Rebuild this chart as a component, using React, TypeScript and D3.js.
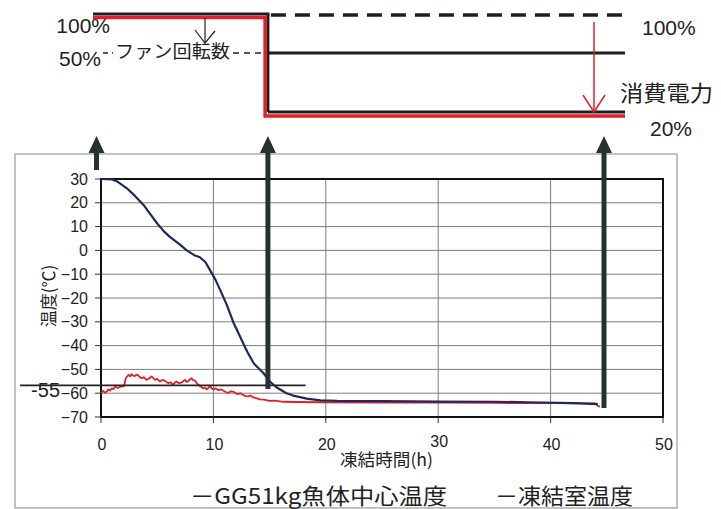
import React from "react";
import * as d3 from "d3";

// ---- data ----
const yTicks = [30, 20, 10, 0, -10, -20, -30, -40, -50, -60, -70];
const xTicks = [0, 10, 20, 30, 40, 50];

// GG51kg fish core temperature (time h, °C)
const fishCore: [number, number][] = [
  [0, 30], [1.0, 29.8], [1.5, 28.8], [2.3, 26.1], [3.0, 23], [3.8, 19], [4.5, 14.5],
  [5.0, 11.3], [5.6, 8], [6.1, 5.8], [7.0, 2.5], [7.6, 0.1], [8.3, -2.0], [8.8, -2.9],
  [9.3, -5], [9.7, -8.3], [10.2, -12.5], [10.6, -16.6], [11.2, -23], [11.8, -30.5],
  [12.4, -36.5], [13.0, -42.5], [13.6, -47.5], [14.45, -51.5], [15.0, -55], [15.6, -57.5],
  [16.5, -60], [17.1, -61], [18.3, -62.3], [19.5, -63.0], [21, -63.2], [25, -63.3],
  [30, -63.5], [35, -63.6], [38, -63.8], [42, -64.2], [44.2, -64.6],
];

// freezer room temperature (time h, °C)
const room: [number, number][] = [
  [0, -60.0], [0.2, -59], [0.35, -59.8], [0.5, -59.4], [0.65, -58.4], [0.8, -58.9], [0.95, -58],
  [1.1, -58.3], [1.25, -57.3], [1.5, -57.8], [1.7, -57.3], [2.05, -57], [2.2, -53.7],
  [2.45, -52.3], [2.6, -52.9], [2.7, -52], [2.85, -52.6], [3.0, -52.8], [3.15, -52.2],
  [3.3, -52.5], [3.45, -53.2], [3.6, -53.7], [3.8, -53.3], [4.05, -54.4], [4.25, -53.9],
  [4.5, -53], [4.65, -53.6], [4.8, -54.4], [5.0, -54.0], [5.25, -55.1], [5.4, -54.6],
  [5.55, -54.4], [5.8, -55.2], [6.0, -55.8], [6.2, -55.4], [6.4, -56.5], [6.55, -55.7],
  [6.7, -55.1], [6.95, -55.8], [7.2, -55.5], [7.35, -54.8], [7.5, -54.4], [7.6, -55.2],
  [7.75, -55.1], [7.9, -54.2], [8.05, -53.7], [8.2, -54.5], [8.35, -54.7], [8.5, -55.6],
  [8.65, -56.5], [8.9, -57.3], [9.1, -58], [9.25, -57.6], [9.4, -58.4], [9.55, -57.8],
  [9.7, -57], [9.85, -58.0], [10.0, -58.4], [10.2, -58.0], [10.45, -58.7], [10.7, -58.4],
  [10.9, -59], [11.1, -59.5], [11.3, -59.9], [11.55, -59.2], [11.8, -59.4], [12.0, -60.1],
  [12.2, -60.4], [12.4, -60.0], [12.65, -60.8], [12.9, -61.2], [13.1, -61.3], [13.3, -61.0],
  [13.55, -61.8], [13.8, -62.1], [14.15, -62.6], [14.5, -62.7], [15.0, -63.2], [15.5, -63.1],
  [16.2, -63.6], [17.4, -63.7], [19.5, -63.8], [25, -63.9], [30, -64.0],
  [35, -64.1], [40, -64.2], [44.0, -64.3], [44.2, -65.3], [44.4, -65.6],
];

// annotation line "-55" (time range, level)
const annoLevel = -56.7;
const annoRange: [number, number] = [-7.2, 18.2];

// vertical arrows (time)
const arrowTimes = [-0.4, 14.85, 44.75];

// ---- layout ----
const W = 721, H = 509;
const plot = { left: 101, right: 663, top: 179, bottom: 417 };
const FONT = "'Liberation Sans', Arial, 'Noto Sans CJK JP', sans-serif";
const JFONT = "'Noto Sans CJK JP', 'Liberation Sans', sans-serif";

export default function App() {
  const x = d3.scaleLinear().domain([0, 50]).range([plot.left, plot.right]);
  const y = d3.scaleLinear().domain([-70, 30]).range([plot.bottom, plot.top]);
  const line = d3.line<[number, number]>().x((d) => x(d[0])).y((d) => y(d[1]));

  const arrowColor = "#263232";
  const red = "#e3202a";
  const tipY = 136;

  // top schematic coordinates
  const topStart = 93, step = x(14.85), redStep = x(14.6), topEnd = 625;
  const y100 = 14, y50 = 53, y20 = 112;

  const fmt = (v: number) => (v < 0 ? "\u2212" + Math.abs(v) : String(v));

  return (
    <svg width={W} height={H} style={{ position: "absolute", left: 0, top: 0, background: "#fff" }}>
      <rect x={0} y={0} width={W} height={H} fill="#fff" />
      {/* outer chart box */}
      <rect x={15} y={154} width={662} height={354} fill="none" stroke="#9a9a9a" strokeWidth={1.2} />

      {/* grid */}
      {yTicks.filter((v) => v > -70 && v < 30).map((v) => (
        <line key={"gy" + v} x1={plot.left} x2={plot.right} y1={y(v)} y2={y(v)} stroke="#7d7d7d" strokeWidth={1} />
      ))}
      {xTicks.filter((v) => v > 0 && v < 50).map((v) => (
        <line key={"gx" + v} x1={x(v)} x2={x(v)} y1={plot.top} y2={plot.bottom} stroke="#7d7d7d" strokeWidth={1} />
      ))}
      {/* plot border */}
      <rect x={plot.left} y={plot.top} width={plot.right - plot.left} height={plot.bottom - plot.top} fill="none" stroke="#111" strokeWidth={2} />

      {/* ticks */}
      {yTicks.map((v) => (
        <g key={"ty" + v}>
          <line x1={plot.left - 6} x2={plot.left} y1={y(v)} y2={y(v)} stroke="#333" strokeWidth={1} />
          <text x={88} y={y(v) + 5.5} textAnchor="end" fontSize={16} fontFamily={FONT} fill="#222">{fmt(v)}</text>
        </g>
      ))}
      {xTicks.map((v) => (
        <g key={"tx" + v}>
          <line x1={x(v)} x2={x(v)} y1={plot.bottom} y2={plot.bottom + 6} stroke="#333" strokeWidth={1} />
          <text x={x(v) + 1} y={v === 30 ? 447 : 450} textAnchor="middle" fontSize={16} fontFamily={FONT} fill="#222">{v}</text>
        </g>
      ))}
      <text transform="translate(55,296) rotate(-90)" textAnchor="middle" fontSize={17} fontFamily={JFONT} fill="#222">温度(℃)</text>
      <text x={340} y={466} fontSize={17} fontFamily={JFONT} fill="#222" textLength={93} lengthAdjust="spacingAndGlyphs">凍結時間(h)</text>

      {/* series */}
      <path d={line(room) || ""} fill="none" stroke={red} strokeWidth={1.8} strokeLinejoin="round" />
      <path d={line(fishCore) || ""} fill="none" stroke="#1d2b5c" strokeWidth={2.2} strokeLinejoin="round" />

      {/* -55 annotation */}
      <line x1={x(annoRange[0])} x2={x(annoRange[1])} y1={y(annoLevel)} y2={y(annoLevel)} stroke="#222" strokeWidth={1.6} />
      <text x={60} y={397} textAnchor="end" fontSize={20} fontFamily={FONT} fill="#222">-55</text>

      {/* legend */}
      <text x={190} y={504} fontSize={22} fontFamily={JFONT} fill="#222" textLength={257} lengthAdjust="spacingAndGlyphs">－GG51kg魚体中心温度</text>
      <text x={495} y={504} fontSize={22} fontFamily={JFONT} fill="#222" textLength={138} lengthAdjust="spacingAndGlyphs">－凍結室温度</text>

      {/* vertical arrows */}
      {arrowTimes.map((t, i) => {
        const ax = x(t);
        const bottoms = [170, 389, 408];
        return (
          <g key={"ar" + i}>
            <line x1={ax} x2={ax} y1={tipY + 14} y2={bottoms[i]} stroke={arrowColor} strokeWidth={5} />
            <path d={`M${ax},${tipY} L${ax - 8},${tipY + 17} L${ax + 8},${tipY + 17} Z`} fill={arrowColor} />
          </g>
        );
      })}

      {/* top schematic */}
      <line x1={topStart} x2={step + 1.5} y1={y100} y2={y100} stroke="#1a1f1f" strokeWidth={3} />
      <line x1={step} x2={step} y1={y100} y2={y20} stroke="#1a1f1f" strokeWidth={3} />
      <line x1={step + 3} x2={topEnd} y1={y100 + 1} y2={y100 + 1} stroke="#1a1f1f" strokeWidth={3.5} strokeDasharray="15,9" />
      <line x1={step} x2={topEnd} y1={y50} y2={y50} stroke="#1a1f1f" strokeWidth={3} />
      <line x1={step} x2={topEnd} y1={y20} y2={y20} stroke="#1a1f1f" strokeWidth={3} />
      <polyline points={`${topStart},${y100 + 3.5} ${redStep},${y100 + 3.5} ${redStep},${y20 + 4} ${topEnd},${y20 + 4}`} fill="none" stroke={red} strokeWidth={3.5} />

      {/* fan speed dashed line and label */}
      <line x1={103} x2={113} y1={y50} y2={y50} stroke="#222" strokeWidth={1.3} strokeDasharray="5,4" />
      <line x1={233} x2={262} y1={y50} y2={y50} stroke="#222" strokeWidth={1.3} strokeDasharray="6,5" />
      <text x={115} y={58} fontSize={18} fontFamily={JFONT} fill="#222" textLength={115} lengthAdjust="spacingAndGlyphs">ファン回転数</text>
      <line x1={205} x2={205} y1={18} y2={43} stroke="#222" strokeWidth={1.2} />
      <polyline points="195,30 205,43 215,31" fill="none" stroke="#222" strokeWidth={1.2} />

      {/* red power arrow */}
      <line x1={594} x2={594} y1={22} y2={112} stroke={red} strokeWidth={1.5} />
      <polyline points="583,95 594,112 605,95" fill="none" stroke={red} strokeWidth={1.5} />

      {/* schematic labels */}
      <text x={110} y={33} textAnchor="end" fontSize={21} fontFamily={FONT} fill="#222">100%</text>
      <text x={101} y={66} textAnchor="end" fontSize={21} fontFamily={FONT} fill="#222">50%</text>
      <text x={642} y={35} fontSize={21} fontFamily={FONT} fill="#222">100%</text>
      <text x={620} y={101} fontSize={22} fontFamily={JFONT} fill="#222" textLength={93} lengthAdjust="spacingAndGlyphs">消費電力</text>
      <text x={650} y={136} fontSize={21} fontFamily={FONT} fill="#222">20%</text>
    </svg>
  );
}
